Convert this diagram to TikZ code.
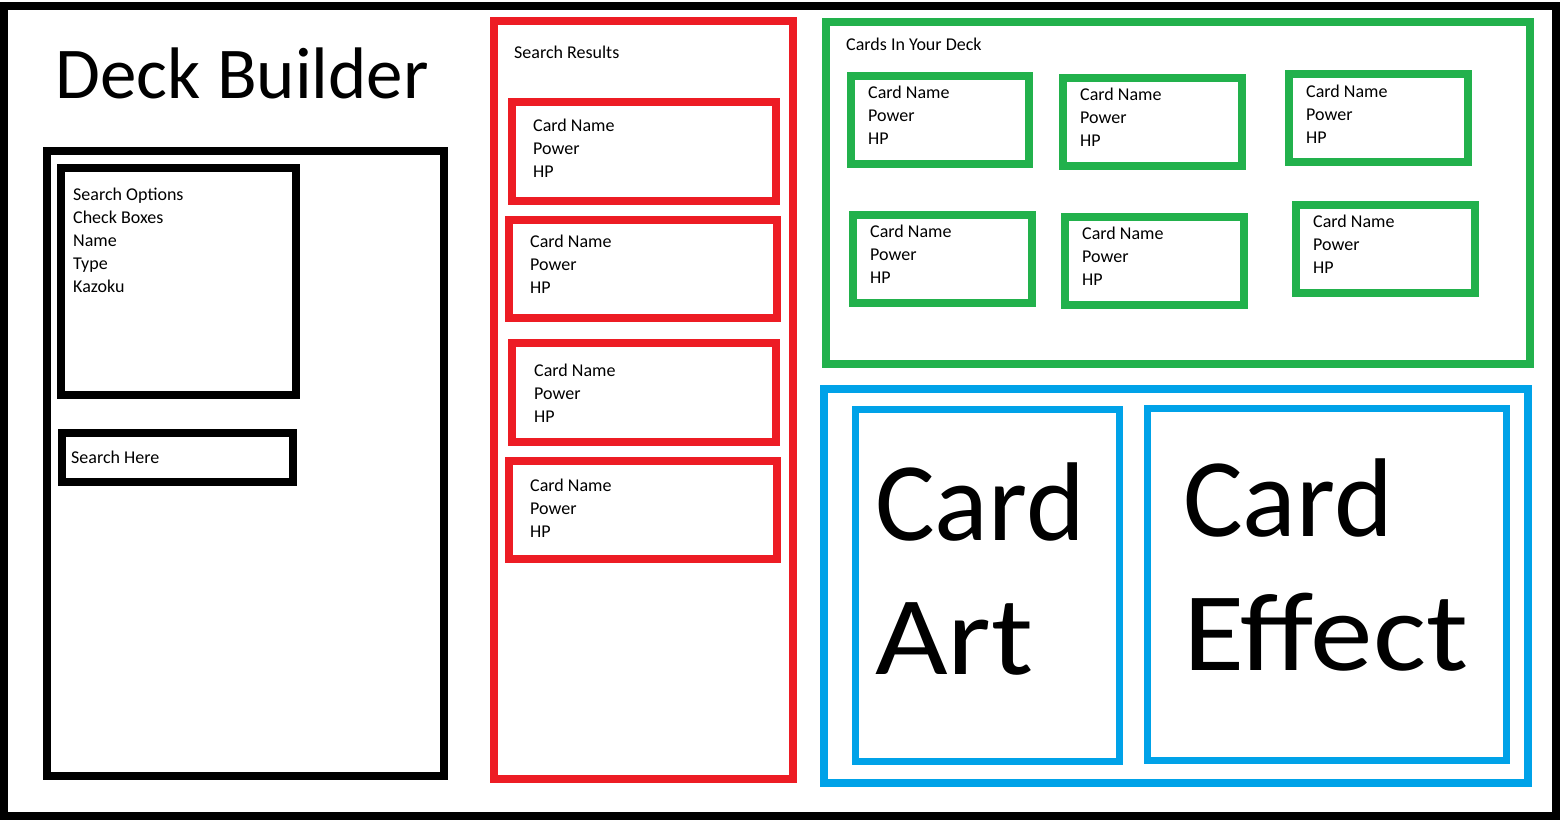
\documentclass[tikz,border=0pt]{standalone}
\usepackage{fontspec}
\setmainfont{Carlito}
\newfontfamily\widefont[FakeStretch=1.12]{Carlito}
\definecolor{paintred}{HTML}{ED1C24}
\definecolor{paintgreen}{HTML}{22B14C}
\definecolor{paintblue}{HTML}{00A2E8}
\newcommand\mlines[1]{\begin{tabular}[t]{@{}l@{}}#1\end{tabular}}
\newcommand\cardlines{\mlines{Card Name\\Power\\HP}}

\begin{document}
\begin{tikzpicture}[x=1pt,y=-1pt,
				box/.style={draw=black,line width=8pt},
				redbox/.style={box,draw=paintred},
				greenbox/.style={box,draw=paintgreen},
				bluebox/.style={box,draw=paintblue},
				lab/.style={anchor=base west,inner sep=0pt,font=\fontsize{18}{23}\selectfont},
				big/.style={anchor=base west,inner sep=0pt,font=\fontsize{112}{134}\selectfont}]
				\useasboundingbox (0,0) rectangle (1560,822);
				\draw[box] (4,6) rectangle (1556,816);
				% left panel
				\node[anchor=base west,inner sep=0pt,font=\fontsize{73}{80}\selectfont] (title) at (55,98) {Deck Builder};
				\draw[box] (47,151) rectangle (444,776);
				\draw[box] (61,168) rectangle (296,395);
					\node[lab] (options) at (73,200) {\mlines{Search Options\\Check Boxes\\Name\\Type\\Kazoku}};
				\draw[box] (62,433) rectangle (293,482);
					\node[lab] (search) at (71,463) {Search Here};
				% search results
				\draw[redbox] (494,21) rectangle (793,779);
					\node[lab] (results) at (514,58) {Search Results};
				\foreach \xa/\ya/\xb/\yb/\tx/\ty [count=\i] in
					{512/102/776/201/533/131, 509/220/777/318/530/247,
					 512/343/776/442/534/376, 509/461/777/559/530/491}{
					\draw[redbox] (\xa,\ya) rectangle (\xb,\yb);
					\node[lab] (result\i) at (\tx,\ty) {\cardlines};
				}
				% deck
				\draw[greenbox] (826,22) rectangle (1530,364);
					\node[lab] (deck) at (846,50) {Cards In Your Deck};
				\foreach \xa/\ya/\xb/\yb/\tx/\ty [count=\i] in
					{851/76/1029/164/868/98, 1063/78/1242/166/1080/100,
					 1289/74/1468/162/1306/97, 853/215/1032/303/870/237,
					 1065/217/1244/305/1082/239, 1296/205/1475/293/1313/227}{
					\draw[greenbox] (\xa,\ya) rectangle (\xb,\yb);
					\node[lab] (card\i) at (\tx,\ty) {\cardlines};
				}
				% card detail
				\draw[bluebox] (824,389) rectangle (1528,783);
				\draw[bluebox,line width=7pt] (855.5,409.5) rectangle (1119.5,761.5);
					\node[big] (art) at (875,540) {\mlines{Card\\{\widefont Art}}};
				\draw[bluebox,line width=7pt] (1147.5,408.5) rectangle (1506.5,760.5);
					\node[big] (effect) at (1183,536) {\mlines{Card\\{\widefont Effect}}};
\end{tikzpicture}
\end{document}
